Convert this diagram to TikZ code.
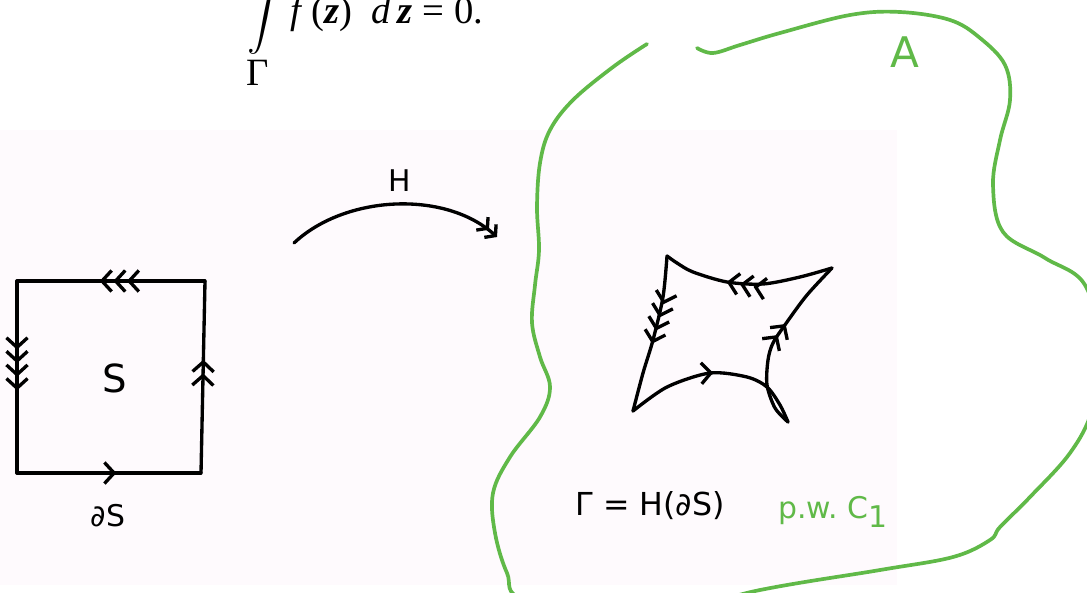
\documentclass[tikz,border=0pt]{standalone}
\usepackage{fontspec}
\usepackage{amsmath}
\setmainfont{Liberation Serif}
\newfontfamily\hand{DejaVu Sans}
\usetikzlibrary{arrows.meta, decorations.markings, positioning}
\definecolor{pen}{RGB}{0,0,0}
\definecolor{chalk}{RGB}{96,185,72}
\definecolor{paper}{RGB}{254,250,253}

\begin{document}
\begin{tikzpicture}[
  x=0.02cm, y=-0.02cm,
  >={Straight Barb[length=5.5pt,width=12pt]},
  ink/.style={draw=#1, line width=1.9pt, line cap=round, line join=round},
  ink/.default=pen,
  flow/.style 2 args={postaction={decorate,decoration={markings,
      mark=at position #1 with {\arrow{#2}}}}},
  scrawl/.style={font=\hand\fontsize{#1}{#1}\selectfont, inner sep=0pt}
]
\useasboundingbox (0,0) rectangle (1087,592);
\clip (0,0) rectangle (1087,592);
\fill[paper] (0,130) rectangle (897,585);

% the formula, cut at the top
\node[anchor=base west, inner sep=0pt, font=\fontsize{22}{26}\selectfont] (cauchy) at (247,23)
  {$\displaystyle\int\limits_{\mbox{\raisebox{4pt}{Γ}}}$\,\textit{f}\,(\textbf{\textit{z}})\ \ \textit{d}\,\textbf{\textit{z}} = 0.};

% square S
\coordinate (sq-tl) at (17,281);
\coordinate (sq-tr) at (205,281);
\coordinate (sq-br) at (201,473);
\coordinate (sq-bl) at (17,473);
\draw[ink, flow={0.54}{>}] (sq-bl) -- (sq-br);
\draw[ink, flow={0.59}{>>}] (sq-br) -- (sq-tr);
\draw[ink, flow={0.56}{>>>}] (sq-tr) -- (sq-tl);
\draw[ink, flow={0.57}{>>>>}] (sq-tl) -- (sq-bl);
\node[scrawl=22] (s-name) at (115,378) {S};
\node[scrawl=17] (s-bdry) at (108,516) {∂S};

% the map H
\coordinate (h-from) at (294,243);
\coordinate (h-to) at (497,237);
\draw[ink, -{Straight Barb[length=4pt,width=10pt] Straight Barb[length=4pt,width=10pt]}]
  (h-from) .. controls (345,195) and (445,190) .. (h-to);
\node[scrawl=17] (h-name) at (400,181) {H};

% image curve Gamma
\draw[ink, flow={0.48}{>}] plot[smooth] coordinates
  {(633,411) (667,387) (710,373) (747,377) (767,387) (780,405) (788,422)};
\draw[ink, flow={0.6}{>>}] plot[smooth] coordinates
  {(788,422) (775,408) (767,385) (768,360) (773,343) (787,322) (807,295) (832,268)};
\draw[ink, flow={0.62}{>>>}] plot[smooth] coordinates
  {(832,268) (800,277) (763,284) (727,282) (693,272) (677,263) (667,256)};
\draw[ink, flow={0.56}{>>>>}] plot[smooth] coordinates
  {(667,256) (663,297) (653,340) (643,373) (633,411)};
\node[scrawl=18] (gamma-def) at (650,506) {Γ = H(∂S)};
\node[scrawl=17, text=chalk] (pw-note) at (833,512) {p.w.\ C\raisebox{-0.6ex}{1}};

% region A
\draw[ink=chalk, line width=2.1pt] plot[smooth, tension=0.6] coordinates
  {(647,44) (613,67) (573,100) (550,130) (540,163) (537,207) (539,250) (535,285)
   (532,323) (540,357) (550,387) (540,417) (510,457) (493,493) (495,533) (507,573)
   (525,600) (640,618) (760,590) (880,570) (953,557) (990,540) (1000,527) (1030,497)
   (1070,453) (1092,410) (1100,350) (1085,285) (1045,258) (1003,232) (993,185)
   (1000,140) (1010,100) (1005,65) (980,38) (950,20) (900,12) (850,15) (780,33)
   (740,45) (713,53) (697,48)};
\node[scrawl=24, text=chalk] (region-name) at (905,52) {A};
\end{tikzpicture}
\end{document}
